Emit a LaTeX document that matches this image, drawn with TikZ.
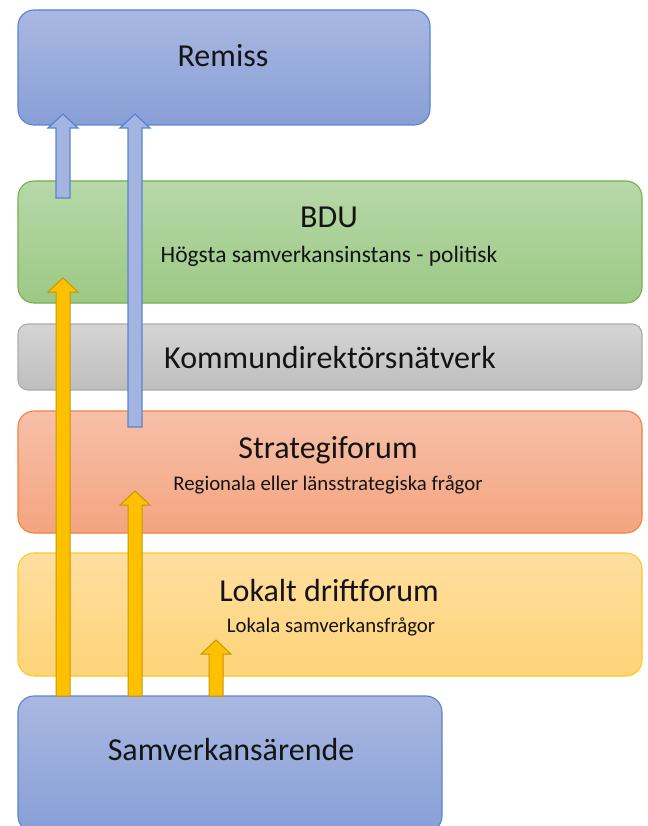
\documentclass[tikz,border=0pt]{standalone}
\usepackage{fontspec}
\setmainfont{Carlito}
\usetikzlibrary{calc}

\definecolor{txt}{HTML}{141414}
\definecolor{blueA}{HTML}{A9B8E1}
\definecolor{blueB}{HTML}{889FD7}
\definecolor{blueL}{HTML}{5B83D0}
\definecolor{greenA}{HTML}{B7D8A9}
\definecolor{greenB}{HTML}{9CC984}
\definecolor{greenL}{HTML}{74B04E}
\definecolor{grayA}{HTML}{D5D5D5}
\definecolor{grayB}{HTML}{BEBEBE}
\definecolor{grayL}{HTML}{ABABAB}
\definecolor{redA}{HTML}{F7C0A8}
\definecolor{redB}{HTML}{F4A480}
\definecolor{redL}{HTML}{EE8444}
\definecolor{yelA}{HTML}{FFDE9F}
\definecolor{yelB}{HTML}{FED478}
\definecolor{yelL}{HTML}{FFC72C}
\definecolor{arrB}{HTML}{A3B4E1}
\definecolor{arrY}{HTML}{FFC000}
\definecolor{arrYL}{HTML}{C49A00}

% block arrow from #1 (tail) up to #2 (tip)
\newcommand{\blockarr}[3]{%
  \path[#3] let \p1=(#1), \p2=(#2) in
    (\x1-7pt,\y1) -- (\x1-7pt,\y2-14pt) -- (\x1-15pt,\y2-14pt) -- (\x1,\y2)
    -- (\x1+15pt,\y2-14pt) -- (\x1+7pt,\y2-14pt) -- (\x1+7pt,\y1) -- cycle;}

\begin{document}
\begin{tikzpicture}
  [x=1pt,y=-1pt,
   every node/.style={inner sep=0pt,text=txt},
   box/.style={draw,rounded corners=16pt,line width=1.1pt,minimum height=#1},
   head/.style={anchor=base,font=\fontsize{32}{36}\selectfont},
   sub/.style={anchor=base,font=\fontsize{20.8}{24}\selectfont},
   blue arr/.style={fill=arrB,draw=blueL,line width=1.3pt},
   yel arr/.style={fill=arrY,draw=arrYL,line width=1pt}]
  \useasboundingbox (0,0) rectangle (647,826);
  \clip (0,0) rectangle (647,826);

  \node[box=115pt,minimum width=412pt,top color=blueA,bottom color=blueB,draw=blueL] (remiss) at (224,67.5) {};
  \node[box=122pt,minimum width=624pt,top color=greenA,bottom color=greenB,draw=greenL] (bdu) at (330,242) {};
  \node[box=66pt,minimum width=624pt,rounded corners=10pt,top color=grayA,bottom color=grayB,draw=grayL] (knv) at (330,357) {};
  \node[box=122pt,minimum width=624pt,top color=redA,bottom color=redB,draw=redL] (strat) at (330,472) {};
  \node[box=123pt,minimum width=624pt,top color=yelA,bottom color=yelB,draw=yelL] (lokal) at (330,614.5) {};
  \node[box=136pt,minimum width=424pt,top color=blueA,bottom color=blueB,draw=blueL] (samv) at (230,764) {};

  \node[head] (remiss-t) at (223,67) {Remiss};
  \node[head] (bdu-t) at (329,228) {BDU};
  \node[sub,font=\fontsize{23.5}{27}\selectfont] (bdu-s) at (329,262) {Högsta samverkansinstans - politisk};
  \node[head] (knv-t) at (330,368) {Kommundirektörsnätverk};
  \node[head] (strat-t) at (328,458) {Strategiforum};
  \node[sub] (strat-s) at (328,490) {Regionala eller länsstrategiska frågor};
  \node[head] (lokal-t) at (329,601) {Lokalt driftforum};
  \node[sub] (lokal-s) at (331,632) {Lokala samverkansfrågor};
  \node[head] (samv-t) at (231,760) {Samverkansärende};

  \coordinate (b1) at (63,198);  \coordinate (b1e) at (63,114);
  \coordinate (b2) at (135,427); \coordinate (b2e) at (135,114);
  \coordinate (y1) at (63,696);  \coordinate (y1e) at (63,278);
  \coordinate (y2) at (135,696); \coordinate (y2e) at (135,491);
  \coordinate (y3) at (216,696); \coordinate (y3e) at (216,640);

  \blockarr{b1}{b1e}{blue arr}
  \blockarr{b2}{b2e}{blue arr}
  \blockarr{y1}{y1e}{yel arr}
  \blockarr{y2}{y2e}{yel arr}
  \blockarr{y3}{y3e}{yel arr}
\end{tikzpicture}
\end{document}
